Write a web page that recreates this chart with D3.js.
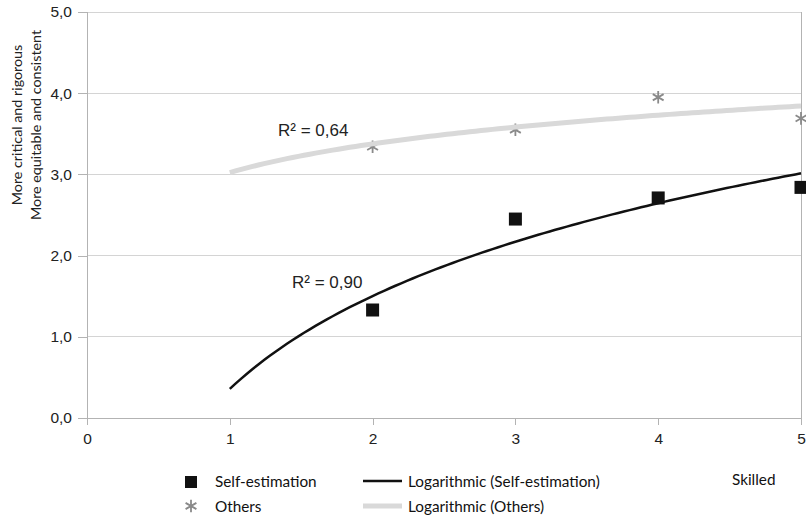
<!DOCTYPE html>
<html>
<head>
<meta charset="utf-8">
<script src="https://cdn.jsdelivr.net/npm/d3@7"></script>
<style>
  html, body { margin: 0; padding: 0; background: #fff; }
  svg { display: block; }
</style>
</head>
<body>
<svg id="chart" width="806" height="516"></svg>
<script>
// Skill level on the x axis, mean rating on the y axis
const levels = [2, 3, 4, 5];
const selfEstimation = [1.33, 2.45, 2.71, 2.84];
const others = [3.34, 3.55, 3.95, 3.69];
const xTicks = [0, 1, 2, 3, 4, 5];
const yTicks = [0, 1, 2, 3, 4, 5];
const rSquaredLabels = ["R² = 0,64", "R² = 0,90"];
const trendRange = [1, 5];

const svg = d3.select("#chart");
const x = d3.scaleLinear().domain([0, 5]).range([87, 801]);
const y = d3.scaleLinear().domain([0, 5]).range([418, 12]);

const gridColor = "#d4d4d4";
const axisColor = "#b3b3b3";
const sans = "'Liberation Sans', Arial, sans-serif";
const humanist = "Lato, 'Open Sans', sans-serif";
const fmt = v => d3.format(".1f")(v).replace(".", ",");

// Horizontal gridlines
svg.append("g").selectAll("line").data(yTicks.filter(d => d > 0)).join("line")
  .attr("x1", x(0)).attr("x2", x(5))
  .attr("y1", d => y(d)).attr("y2", d => y(d))
  .attr("stroke", gridColor).attr("stroke-width", 1).attr("shape-rendering", "crispEdges");

// Right border of the plot area
svg.append("line")
  .attr("x1", x(5)).attr("x2", x(5)).attr("y1", y(5)).attr("y2", y(0))
  .attr("stroke", axisColor).attr("shape-rendering", "crispEdges");

// Axes
const yAxis = svg.append("g").attr("transform", `translate(${x(0)},0)`)
  .call(d3.axisLeft(y).tickValues(yTicks).tickFormat(fmt).tickSize(9).tickPadding(6));
const xAxis = svg.append("g").attr("transform", `translate(0,${y(0)})`)
  .call(d3.axisBottom(x).tickValues(xTicks).tickFormat(d3.format("d")).tickSize(7).tickPadding(8));
[yAxis, xAxis].forEach(g => {
  g.select(".domain").attr("stroke", axisColor).attr("shape-rendering", "crispEdges");
  g.selectAll(".tick line").attr("stroke", axisColor).attr("shape-rendering", "crispEdges");
  g.selectAll(".tick text")
    .attr("fill", "#222").attr("font-family", sans).attr("font-size", 15.5);
});

// Y axis title (two lines)
const yTitle = svg.append("text")
  .attr("transform", "translate(22,125) rotate(-90)")
  .attr("text-anchor", "middle")
  .attr("font-family", humanist)
  .attr("font-size", 14.3).attr("fill", "#222");
yTitle.append("tspan").attr("x", 0).attr("dy", 0).text("More critical and rigorous");
yTitle.append("tspan").attr("x", 0).attr("dy", 18.5).text("More equitable and consistent");

// Least-squares fit of y = a + b·ln(x)
function logFit(xs, ys) {
  const lx = xs.map(Math.log);
  const mx = d3.mean(lx), my = d3.mean(ys);
  const sxy = d3.sum(lx, (v, i) => (v - mx) * (ys[i] - my));
  const sxx = d3.sum(lx, v => (v - mx) * (v - mx));
  const b = sxy / sxx;
  return { a: my - b * mx, b };
}
const curvePoints = fit => d3.range(0, 101).map(i => {
  const xv = trendRange[0] + (trendRange[1] - trendRange[0]) * i / 100;
  return [xv, fit.a + fit.b * Math.log(xv)];
});
const line = d3.line().x(d => x(d[0])).y(d => y(d[1]));

// Markers
const squareSize = 13;
svg.append("g").selectAll("rect").data(levels).join("rect")
  .attr("x", (d) => x(d) - squareSize / 2)
  .attr("y", (d, i) => y(selfEstimation[i]) - squareSize / 2)
  .attr("width", squareSize).attr("height", squareSize)
  .attr("fill", "#111");

const asterisk = d3.symbol().type(d3.symbolAsterisk).size(110);
svg.append("g").selectAll("path").data(levels).join("path")
  .attr("transform", (d, i) => `translate(${x(d)},${y(others[i])})`)
  .attr("d", asterisk)
  .attr("fill", "none").attr("stroke", "#8a8a8a").attr("stroke-width", 1.8);

// Logarithmic trendlines drawn over the markers
const fitOthers = logFit(levels, others);
const fitSelf = logFit(levels, selfEstimation);
svg.append("path").datum(curvePoints(fitOthers)).attr("d", line)
  .attr("fill", "none").attr("stroke", "#d9d9d9").attr("stroke-width", 5);
svg.append("path").datum(curvePoints(fitSelf)).attr("d", line)
  .attr("fill", "none").attr("stroke", "#111").attr("stroke-width", 2.5);

// R² annotations
const annot = svg.append("g")
  .attr("font-family", sans)
  .attr("font-size", 17).attr("fill", "#222");
annot.append("text").attr("x", 278).attr("y", 136).text(rSquaredLabels[0]);
annot.append("text").attr("x", 292).attr("y", 288).text(rSquaredLabels[1]);

// Legend
const legend = svg.append("g")
  .attr("font-family", humanist)
  .attr("font-size", 15.3).attr("fill", "#111");
legend.append("rect").attr("x", 185).attr("y", 476).attr("width", 12).attr("height", 12).attr("fill", "#111");
legend.append("path").attr("transform", "translate(191,506)").attr("d", asterisk)
  .attr("fill", "none").attr("stroke", "#8a8a8a").attr("stroke-width", 1.8);
legend.append("text").attr("x", 215).attr("y", 487).text("Self-estimation");
legend.append("text").attr("x", 215).attr("y", 512).text("Others");
legend.append("line").attr("x1", 363).attr("x2", 402).attr("y1", 481).attr("y2", 481)
  .attr("stroke", "#111").attr("stroke-width", 2.5);
legend.append("line").attr("x1", 363).attr("x2", 402).attr("y1", 506).attr("y2", 506)
  .attr("stroke", "#d9d9d9").attr("stroke-width", 5);
legend.append("text").attr("x", 408).attr("y", 487).text("Logarithmic (Self-estimation)");
legend.append("text").attr("x", 408).attr("y", 512).text("Logarithmic (Others)");
legend.append("text").attr("x", 732).attr("y", 485).text("Skilled");
</script>
</body>
</html>
